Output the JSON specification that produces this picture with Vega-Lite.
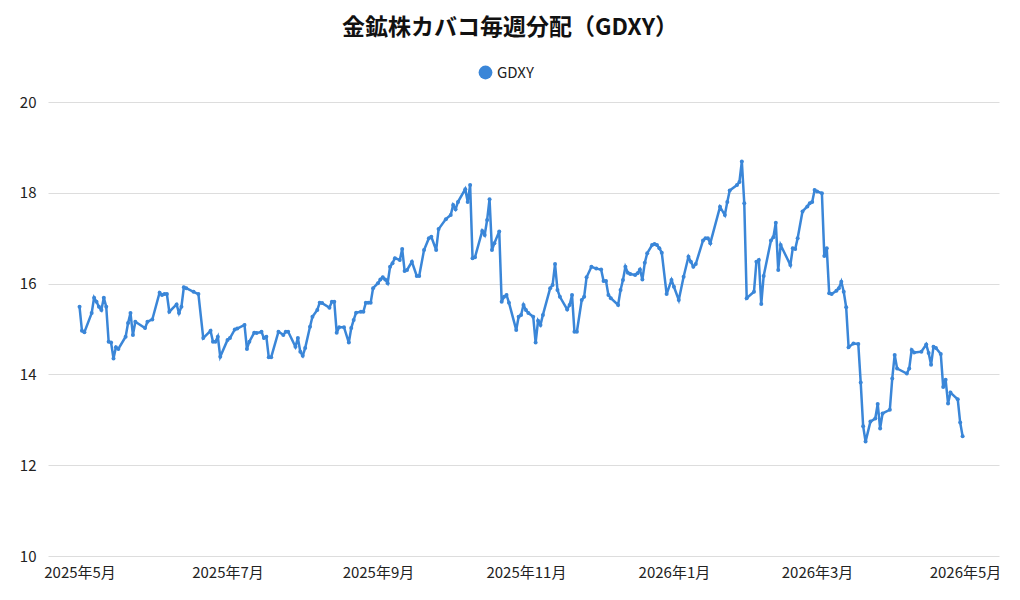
{
  "$schema": "https://vega.github.io/schema/vega-lite/v6.json",
  "width": 951,
  "height": 454,
  "padding": {"top": 17, "left": 19, "right": 22, "bottom": 5},
  "background": "white",
  "title": {
    "text": "金鉱株カバコ毎週分配（GDXY）",
    "font": "Noto Sans CJK JP",
    "fontSize": 23,
    "fontWeight": "bold",
    "color": "#111",
    "anchor": "middle",
    "frame": "bounds",
    "offset": 25
  },
  "config": {
    "view": {"stroke": null},
    "font": "Noto Sans CJK JP",
    "axis": {
      "labelFont": "Noto Sans CJK JP",
      "labelFontSize": 15,
      "labelColor": "#222",
      "domain": false,
      "ticks": false,
      "title": null,
      "gridColor": "#dddddd"
    },
    "legend": {
      "labelFont": "Noto Sans CJK JP",
      "labelFontSize": 15,
      "labelColor": "#222"
    }
  },
  "data": {
    "values": [
      {"date": "2025-05-01", "price": 15.49, "series": "GDXY"},
      {"date": "2025-05-02", "price": 14.96, "series": "GDXY"},
      {"date": "2025-05-03", "price": 14.93, "series": "GDXY"},
      {"date": "2025-05-06", "price": 15.35, "series": "GDXY"},
      {"date": "2025-05-07", "price": 15.69, "series": "GDXY"},
      {"date": "2025-05-08", "price": 15.60, "series": "GDXY"},
      {"date": "2025-05-09", "price": 15.49, "series": "GDXY"},
      {"date": "2025-05-10", "price": 15.42, "series": "GDXY"},
      {"date": "2025-05-11", "price": 15.69, "series": "GDXY"},
      {"date": "2025-05-12", "price": 15.49, "series": "GDXY"},
      {"date": "2025-05-13", "price": 14.72, "series": "GDXY"},
      {"date": "2025-05-14", "price": 14.70, "series": "GDXY"},
      {"date": "2025-05-15", "price": 14.35, "series": "GDXY"},
      {"date": "2025-05-16", "price": 14.60, "series": "GDXY"},
      {"date": "2025-05-17", "price": 14.56, "series": "GDXY"},
      {"date": "2025-05-20", "price": 14.83, "series": "GDXY"},
      {"date": "2025-05-21", "price": 15.13, "series": "GDXY"},
      {"date": "2025-05-22", "price": 15.35, "series": "GDXY"},
      {"date": "2025-05-23", "price": 14.87, "series": "GDXY"},
      {"date": "2025-05-24", "price": 15.16, "series": "GDXY"},
      {"date": "2025-05-28", "price": 15.02, "series": "GDXY"},
      {"date": "2025-05-29", "price": 15.16, "series": "GDXY"},
      {"date": "2025-05-31", "price": 15.21, "series": "GDXY"},
      {"date": "2025-06-03", "price": 15.80, "series": "GDXY"},
      {"date": "2025-06-04", "price": 15.75, "series": "GDXY"},
      {"date": "2025-06-05", "price": 15.77, "series": "GDXY"},
      {"date": "2025-06-06", "price": 15.77, "series": "GDXY"},
      {"date": "2025-06-07", "price": 15.38, "series": "GDXY"},
      {"date": "2025-06-10", "price": 15.54, "series": "GDXY"},
      {"date": "2025-06-11", "price": 15.35, "series": "GDXY"},
      {"date": "2025-06-12", "price": 15.49, "series": "GDXY"},
      {"date": "2025-06-13", "price": 15.92, "series": "GDXY"},
      {"date": "2025-06-14", "price": 15.90, "series": "GDXY"},
      {"date": "2025-06-17", "price": 15.82, "series": "GDXY"},
      {"date": "2025-06-19", "price": 15.77, "series": "GDXY"},
      {"date": "2025-06-21", "price": 14.80, "series": "GDXY"},
      {"date": "2025-06-24", "price": 14.96, "series": "GDXY"},
      {"date": "2025-06-25", "price": 14.72, "series": "GDXY"},
      {"date": "2025-06-26", "price": 14.72, "series": "GDXY"},
      {"date": "2025-06-27", "price": 14.83, "series": "GDXY"},
      {"date": "2025-06-28", "price": 14.39, "series": "GDXY"},
      {"date": "2025-07-01", "price": 14.76, "series": "GDXY"},
      {"date": "2025-07-02", "price": 14.80, "series": "GDXY"},
      {"date": "2025-07-04", "price": 14.99, "series": "GDXY"},
      {"date": "2025-07-05", "price": 15.01, "series": "GDXY"},
      {"date": "2025-07-08", "price": 15.09, "series": "GDXY"},
      {"date": "2025-07-09", "price": 14.56, "series": "GDXY"},
      {"date": "2025-07-10", "price": 14.72, "series": "GDXY"},
      {"date": "2025-07-12", "price": 14.92, "series": "GDXY"},
      {"date": "2025-07-13", "price": 14.91, "series": "GDXY"},
      {"date": "2025-07-15", "price": 14.94, "series": "GDXY"},
      {"date": "2025-07-16", "price": 14.80, "series": "GDXY"},
      {"date": "2025-07-17", "price": 14.83, "series": "GDXY"},
      {"date": "2025-07-18", "price": 14.38, "series": "GDXY"},
      {"date": "2025-07-19", "price": 14.38, "series": "GDXY"},
      {"date": "2025-07-22", "price": 14.94, "series": "GDXY"},
      {"date": "2025-07-24", "price": 14.87, "series": "GDXY"},
      {"date": "2025-07-25", "price": 14.94, "series": "GDXY"},
      {"date": "2025-07-26", "price": 14.94, "series": "GDXY"},
      {"date": "2025-07-29", "price": 14.61, "series": "GDXY"},
      {"date": "2025-07-30", "price": 14.80, "series": "GDXY"},
      {"date": "2025-07-31", "price": 14.50, "series": "GDXY"},
      {"date": "2025-08-01", "price": 14.41, "series": "GDXY"},
      {"date": "2025-08-02", "price": 14.58, "series": "GDXY"},
      {"date": "2025-08-04", "price": 15.05, "series": "GDXY"},
      {"date": "2025-08-05", "price": 15.27, "series": "GDXY"},
      {"date": "2025-08-07", "price": 15.42, "series": "GDXY"},
      {"date": "2025-08-08", "price": 15.58, "series": "GDXY"},
      {"date": "2025-08-09", "price": 15.57, "series": "GDXY"},
      {"date": "2025-08-12", "price": 15.47, "series": "GDXY"},
      {"date": "2025-08-13", "price": 15.60, "series": "GDXY"},
      {"date": "2025-08-14", "price": 15.60, "series": "GDXY"},
      {"date": "2025-08-15", "price": 14.92, "series": "GDXY"},
      {"date": "2025-08-16", "price": 15.04, "series": "GDXY"},
      {"date": "2025-08-18", "price": 15.04, "series": "GDXY"},
      {"date": "2025-08-20", "price": 14.70, "series": "GDXY"},
      {"date": "2025-08-21", "price": 15.02, "series": "GDXY"},
      {"date": "2025-08-22", "price": 15.20, "series": "GDXY"},
      {"date": "2025-08-23", "price": 15.36, "series": "GDXY"},
      {"date": "2025-08-25", "price": 15.38, "series": "GDXY"},
      {"date": "2025-08-26", "price": 15.38, "series": "GDXY"},
      {"date": "2025-08-27", "price": 15.58, "series": "GDXY"},
      {"date": "2025-08-28", "price": 15.58, "series": "GDXY"},
      {"date": "2025-08-29", "price": 15.58, "series": "GDXY"},
      {"date": "2025-08-30", "price": 15.90, "series": "GDXY"},
      {"date": "2025-09-01", "price": 16.01, "series": "GDXY"},
      {"date": "2025-09-02", "price": 16.09, "series": "GDXY"},
      {"date": "2025-09-03", "price": 16.14, "series": "GDXY"},
      {"date": "2025-09-04", "price": 16.09, "series": "GDXY"},
      {"date": "2025-09-05", "price": 16.01, "series": "GDXY"},
      {"date": "2025-09-06", "price": 16.37, "series": "GDXY"},
      {"date": "2025-09-07", "price": 16.45, "series": "GDXY"},
      {"date": "2025-09-08", "price": 16.56, "series": "GDXY"},
      {"date": "2025-09-10", "price": 16.52, "series": "GDXY"},
      {"date": "2025-09-11", "price": 16.76, "series": "GDXY"},
      {"date": "2025-09-12", "price": 16.28, "series": "GDXY"},
      {"date": "2025-09-13", "price": 16.30, "series": "GDXY"},
      {"date": "2025-09-15", "price": 16.48, "series": "GDXY"},
      {"date": "2025-09-17", "price": 16.17, "series": "GDXY"},
      {"date": "2025-09-18", "price": 16.17, "series": "GDXY"},
      {"date": "2025-09-20", "price": 16.74, "series": "GDXY"},
      {"date": "2025-09-22", "price": 17.00, "series": "GDXY"},
      {"date": "2025-09-23", "price": 17.03, "series": "GDXY"},
      {"date": "2025-09-25", "price": 16.74, "series": "GDXY"},
      {"date": "2025-09-26", "price": 17.20, "series": "GDXY"},
      {"date": "2025-09-29", "price": 17.42, "series": "GDXY"},
      {"date": "2025-10-01", "price": 17.51, "series": "GDXY"},
      {"date": "2025-10-02", "price": 17.73, "series": "GDXY"},
      {"date": "2025-10-03", "price": 17.64, "series": "GDXY"},
      {"date": "2025-10-04", "price": 17.80, "series": "GDXY"},
      {"date": "2025-10-07", "price": 18.08, "series": "GDXY"},
      {"date": "2025-10-08", "price": 17.80, "series": "GDXY"},
      {"date": "2025-10-09", "price": 18.17, "series": "GDXY"},
      {"date": "2025-10-10", "price": 16.56, "series": "GDXY"},
      {"date": "2025-10-11", "price": 16.58, "series": "GDXY"},
      {"date": "2025-10-14", "price": 17.16, "series": "GDXY"},
      {"date": "2025-10-15", "price": 17.07, "series": "GDXY"},
      {"date": "2025-10-16", "price": 17.40, "series": "GDXY"},
      {"date": "2025-10-17", "price": 17.86, "series": "GDXY"},
      {"date": "2025-10-18", "price": 16.74, "series": "GDXY"},
      {"date": "2025-10-19", "price": 16.89, "series": "GDXY"},
      {"date": "2025-10-21", "price": 17.15, "series": "GDXY"},
      {"date": "2025-10-22", "price": 15.60, "series": "GDXY"},
      {"date": "2025-10-23", "price": 15.71, "series": "GDXY"},
      {"date": "2025-10-24", "price": 15.75, "series": "GDXY"},
      {"date": "2025-10-25", "price": 15.58, "series": "GDXY"},
      {"date": "2025-10-28", "price": 14.98, "series": "GDXY"},
      {"date": "2025-10-29", "price": 15.27, "series": "GDXY"},
      {"date": "2025-10-30", "price": 15.31, "series": "GDXY"},
      {"date": "2025-10-31", "price": 15.53, "series": "GDXY"},
      {"date": "2025-11-01", "price": 15.42, "series": "GDXY"},
      {"date": "2025-11-02", "price": 15.35, "series": "GDXY"},
      {"date": "2025-11-04", "price": 15.27, "series": "GDXY"},
      {"date": "2025-11-05", "price": 14.70, "series": "GDXY"},
      {"date": "2025-11-06", "price": 15.18, "series": "GDXY"},
      {"date": "2025-11-07", "price": 15.09, "series": "GDXY"},
      {"date": "2025-11-08", "price": 15.31, "series": "GDXY"},
      {"date": "2025-11-11", "price": 15.90, "series": "GDXY"},
      {"date": "2025-11-12", "price": 15.97, "series": "GDXY"},
      {"date": "2025-11-13", "price": 16.43, "series": "GDXY"},
      {"date": "2025-11-14", "price": 15.86, "series": "GDXY"},
      {"date": "2025-11-15", "price": 15.71, "series": "GDXY"},
      {"date": "2025-11-18", "price": 15.43, "series": "GDXY"},
      {"date": "2025-11-19", "price": 15.53, "series": "GDXY"},
      {"date": "2025-11-20", "price": 15.75, "series": "GDXY"},
      {"date": "2025-11-21", "price": 14.94, "series": "GDXY"},
      {"date": "2025-11-22", "price": 14.94, "series": "GDXY"},
      {"date": "2025-11-24", "price": 15.64, "series": "GDXY"},
      {"date": "2025-11-25", "price": 15.71, "series": "GDXY"},
      {"date": "2025-11-26", "price": 16.14, "series": "GDXY"},
      {"date": "2025-11-28", "price": 16.37, "series": "GDXY"},
      {"date": "2025-11-30", "price": 16.33, "series": "GDXY"},
      {"date": "2025-12-02", "price": 16.31, "series": "GDXY"},
      {"date": "2025-12-03", "price": 16.06, "series": "GDXY"},
      {"date": "2025-12-04", "price": 16.06, "series": "GDXY"},
      {"date": "2025-12-05", "price": 15.75, "series": "GDXY"},
      {"date": "2025-12-06", "price": 15.68, "series": "GDXY"},
      {"date": "2025-12-09", "price": 15.53, "series": "GDXY"},
      {"date": "2025-12-10", "price": 15.86, "series": "GDXY"},
      {"date": "2025-12-11", "price": 16.08, "series": "GDXY"},
      {"date": "2025-12-12", "price": 16.37, "series": "GDXY"},
      {"date": "2025-12-13", "price": 16.24, "series": "GDXY"},
      {"date": "2025-12-14", "price": 16.21, "series": "GDXY"},
      {"date": "2025-12-16", "price": 16.19, "series": "GDXY"},
      {"date": "2025-12-17", "price": 16.23, "series": "GDXY"},
      {"date": "2025-12-18", "price": 16.31, "series": "GDXY"},
      {"date": "2025-12-19", "price": 16.09, "series": "GDXY"},
      {"date": "2025-12-20", "price": 16.46, "series": "GDXY"},
      {"date": "2025-12-21", "price": 16.67, "series": "GDXY"},
      {"date": "2025-12-23", "price": 16.85, "series": "GDXY"},
      {"date": "2025-12-24", "price": 16.87, "series": "GDXY"},
      {"date": "2025-12-25", "price": 16.85, "series": "GDXY"},
      {"date": "2025-12-26", "price": 16.78, "series": "GDXY"},
      {"date": "2025-12-27", "price": 16.68, "series": "GDXY"},
      {"date": "2025-12-29", "price": 15.77, "series": "GDXY"},
      {"date": "2025-12-31", "price": 16.08, "series": "GDXY"},
      {"date": "2026-01-01", "price": 15.93, "series": "GDXY"},
      {"date": "2026-01-03", "price": 15.64, "series": "GDXY"},
      {"date": "2026-01-05", "price": 16.15, "series": "GDXY"},
      {"date": "2026-01-07", "price": 16.59, "series": "GDXY"},
      {"date": "2026-01-08", "price": 16.48, "series": "GDXY"},
      {"date": "2026-01-09", "price": 16.37, "series": "GDXY"},
      {"date": "2026-01-10", "price": 16.43, "series": "GDXY"},
      {"date": "2026-01-13", "price": 16.95, "series": "GDXY"},
      {"date": "2026-01-14", "price": 17.00, "series": "GDXY"},
      {"date": "2026-01-15", "price": 17.00, "series": "GDXY"},
      {"date": "2026-01-16", "price": 16.89, "series": "GDXY"},
      {"date": "2026-01-20", "price": 17.69, "series": "GDXY"},
      {"date": "2026-01-22", "price": 17.51, "series": "GDXY"},
      {"date": "2026-01-23", "price": 17.80, "series": "GDXY"},
      {"date": "2026-01-24", "price": 18.05, "series": "GDXY"},
      {"date": "2026-01-27", "price": 18.17, "series": "GDXY"},
      {"date": "2026-01-28", "price": 18.24, "series": "GDXY"},
      {"date": "2026-01-29", "price": 18.69, "series": "GDXY"},
      {"date": "2026-01-30", "price": 17.77, "series": "GDXY"},
      {"date": "2026-01-31", "price": 15.68, "series": "GDXY"},
      {"date": "2026-02-03", "price": 15.82, "series": "GDXY"},
      {"date": "2026-02-04", "price": 16.48, "series": "GDXY"},
      {"date": "2026-02-05", "price": 16.52, "series": "GDXY"},
      {"date": "2026-02-06", "price": 15.55, "series": "GDXY"},
      {"date": "2026-02-07", "price": 16.17, "series": "GDXY"},
      {"date": "2026-02-10", "price": 16.95, "series": "GDXY"},
      {"date": "2026-02-11", "price": 17.02, "series": "GDXY"},
      {"date": "2026-02-12", "price": 17.34, "series": "GDXY"},
      {"date": "2026-02-13", "price": 16.30, "series": "GDXY"},
      {"date": "2026-02-14", "price": 16.85, "series": "GDXY"},
      {"date": "2026-02-18", "price": 16.41, "series": "GDXY"},
      {"date": "2026-02-19", "price": 16.78, "series": "GDXY"},
      {"date": "2026-02-20", "price": 16.76, "series": "GDXY"},
      {"date": "2026-02-21", "price": 17.00, "series": "GDXY"},
      {"date": "2026-02-23", "price": 17.59, "series": "GDXY"},
      {"date": "2026-02-25", "price": 17.70, "series": "GDXY"},
      {"date": "2026-02-26", "price": 17.77, "series": "GDXY"},
      {"date": "2026-02-27", "price": 17.80, "series": "GDXY"},
      {"date": "2026-02-28", "price": 18.06, "series": "GDXY"},
      {"date": "2026-03-01", "price": 18.03, "series": "GDXY"},
      {"date": "2026-03-03", "price": 17.99, "series": "GDXY"},
      {"date": "2026-03-04", "price": 16.61, "series": "GDXY"},
      {"date": "2026-03-05", "price": 16.78, "series": "GDXY"},
      {"date": "2026-03-06", "price": 15.79, "series": "GDXY"},
      {"date": "2026-03-07", "price": 15.77, "series": "GDXY"},
      {"date": "2026-03-09", "price": 15.84, "series": "GDXY"},
      {"date": "2026-03-10", "price": 15.90, "series": "GDXY"},
      {"date": "2026-03-11", "price": 16.04, "series": "GDXY"},
      {"date": "2026-03-12", "price": 15.82, "series": "GDXY"},
      {"date": "2026-03-13", "price": 15.48, "series": "GDXY"},
      {"date": "2026-03-14", "price": 14.60, "series": "GDXY"},
      {"date": "2026-03-16", "price": 14.68, "series": "GDXY"},
      {"date": "2026-03-18", "price": 14.67, "series": "GDXY"},
      {"date": "2026-03-19", "price": 13.82, "series": "GDXY"},
      {"date": "2026-03-20", "price": 12.86, "series": "GDXY"},
      {"date": "2026-03-21", "price": 12.52, "series": "GDXY"},
      {"date": "2026-03-23", "price": 12.96, "series": "GDXY"},
      {"date": "2026-03-25", "price": 13.03, "series": "GDXY"},
      {"date": "2026-03-26", "price": 13.35, "series": "GDXY"},
      {"date": "2026-03-27", "price": 12.81, "series": "GDXY"},
      {"date": "2026-03-28", "price": 13.14, "series": "GDXY"},
      {"date": "2026-03-31", "price": 13.22, "series": "GDXY"},
      {"date": "2026-04-01", "price": 13.91, "series": "GDXY"},
      {"date": "2026-04-02", "price": 14.43, "series": "GDXY"},
      {"date": "2026-04-03", "price": 14.13, "series": "GDXY"},
      {"date": "2026-04-07", "price": 14.02, "series": "GDXY"},
      {"date": "2026-04-08", "price": 14.13, "series": "GDXY"},
      {"date": "2026-04-09", "price": 14.54, "series": "GDXY"},
      {"date": "2026-04-10", "price": 14.48, "series": "GDXY"},
      {"date": "2026-04-13", "price": 14.50, "series": "GDXY"},
      {"date": "2026-04-15", "price": 14.66, "series": "GDXY"},
      {"date": "2026-04-16", "price": 14.47, "series": "GDXY"},
      {"date": "2026-04-17", "price": 14.21, "series": "GDXY"},
      {"date": "2026-04-18", "price": 14.61, "series": "GDXY"},
      {"date": "2026-04-19", "price": 14.58, "series": "GDXY"},
      {"date": "2026-04-21", "price": 14.45, "series": "GDXY"},
      {"date": "2026-04-22", "price": 13.72, "series": "GDXY"},
      {"date": "2026-04-23", "price": 13.88, "series": "GDXY"},
      {"date": "2026-04-24", "price": 13.36, "series": "GDXY"},
      {"date": "2026-04-25", "price": 13.60, "series": "GDXY"},
      {"date": "2026-04-28", "price": 13.45, "series": "GDXY"},
      {"date": "2026-04-29", "price": 12.94, "series": "GDXY"},
      {"date": "2026-04-30", "price": 12.64, "series": "GDXY"}
    ]
  },
  "mark": {
    "type": "line",
    "strokeWidth": 2.5,
    "point": {"size": 16, "filled": true}
  },
  "encoding": {
    "x": {
      "field": "date",
      "type": "temporal",
      "scale": {"domain": ["2025-04-18", "2026-05-15"], "nice": false},
      "axis": {
        "grid": false,
        "format": "%Y年%-m月",
        "tickCount": {"interval": "month", "step": 2},
        "labelPadding": 9,
        "labelFlush": false,
        "labelOverlap": false
      }
    },
    "y": {
      "field": "price",
      "type": "quantitative",
      "scale": {"domain": [10, 20], "nice": false, "zero": false},
      "axis": {
        "values": [10, 12, 14, 16, 18, 20],
        "grid": true,
        "labelPadding": 12
      }
    },
    "color": {
      "field": "series",
      "type": "nominal",
      "scale": {"range": ["#3a86d8"]},
      "legend": {
        "orient": "none",
        "legendX": 430,
        "legendY": -37,
        "direction": "horizontal",
        "title": null,
        "symbolType": "circle",
        "symbolSize": 190,
        "symbolStrokeWidth": 0,
        "symbolOpacity": 1,
        "labelFontSize": 15
      }
    }
  }
}
